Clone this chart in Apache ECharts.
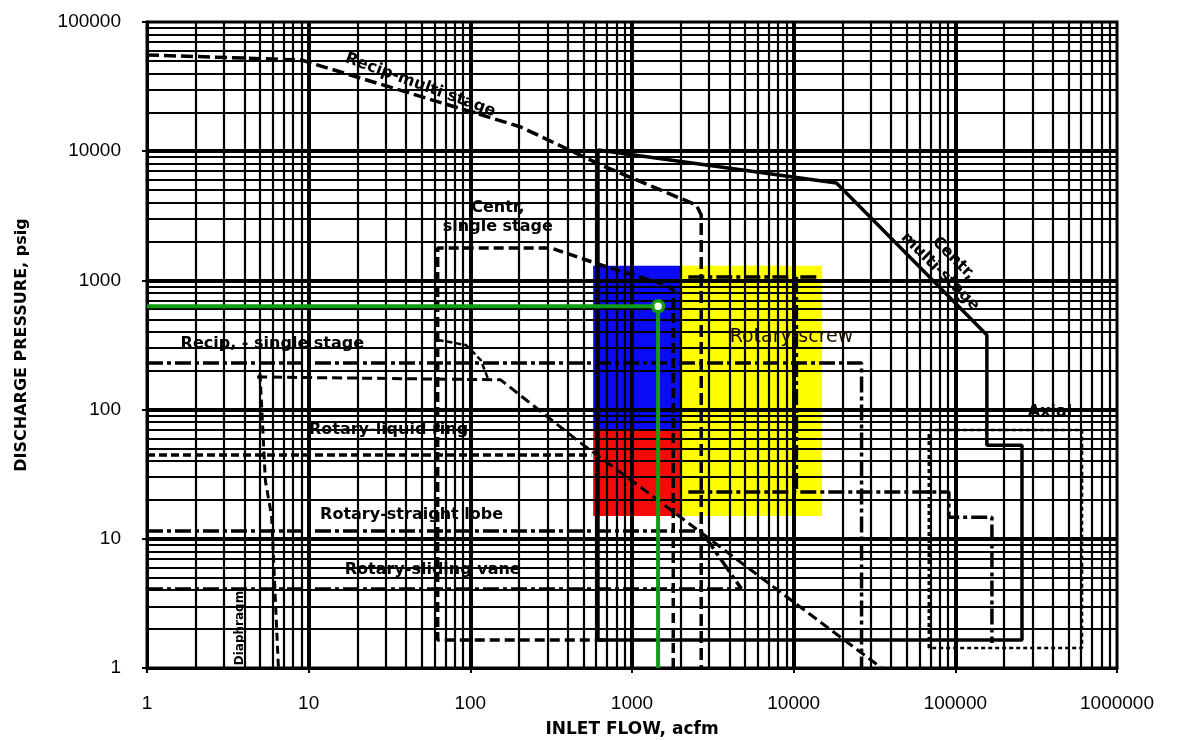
<!DOCTYPE html>
<html><head><meta charset="utf-8">
<script src="https://cdn.jsdelivr.net/npm/echarts@6/dist/echarts.min.js"></script>
<style>html,body{margin:0;padding:0;background:#fff}#c{width:1177px;height:740px}</style>
</head><body><div id="c"></div>
<script>
// ---- axis ticks ----
const xTicks = [1, 10, 100, 1000, 10000, 100000, 1000000];
const yTicks = [1, 10, 100, 1000, 10000, 100000];

// ---- boundary lines [inlet flow acfm, discharge pressure psig] ----
const recipMulti   = [[1,55600],[9,50800],[205,15400],[643,7820],[2500,3830],[2680,3210],[2680,1]];
const centrMulti   = [[616,1.65],[616,10200],[18400,5680],[156700,378],[156700,53],[258400,53],[258400,1.65],[616,1.65]];
const centrSingle  = [[1800,1],[1800,843],[1627,921],[643,1316],[315,1782],[62.8,1782],[62.8,1.65],[700,1.65]];
const recipSingle  = [[1,229],[26300,229],[26300,1]];
const recipSingleB = [[4.8,179],[154,170],[483,55],[1313,21.8],[35000,1]];
const recipSingleC = [[62.8,346],[94,316],[116,242],[128,176]];
const liquidRing   = [[1,44.5],[560,44.5]];
const straightLobe = [[1,11.5],[2680,11.5],[4750,4.1]];
const slidingVane  = [[1,4.1],[4750,4.1]];
const diaphragm    = [[5.0,190],[5.4,28],[5.9,15],[6.5,1]];
const screwTop     = [[2230,1063],[14250,1063]];
const screwRight   = [[10400,1063],[10400,23]];
const screwBottom  = [[2230,23],[91200,23],[91200,14.7],[168400,14.7],[168400,1.56]];
const axial        = [[68500,1.43],[68500,69.5],[608000,69.5],[608000,1.43],[68500,1.43]];

// ---- highlighted regions [xFrom, xTo, yFrom, yTo] ----
const boxBlue   = [575, 2000, 70, 1300];
const boxRed    = [575, 2000, 15, 70];
const boxYellow = [2000, 15000, 15, 1300];

// ---- operating point ----
const opPoint = [1450, 630];

// ---- annotations [x, y, text, rotate] ----
const notes = [
  [49, 32500, 'Recip-multi stage', -20],
  [148, 3100, 'Centr,\nsingle stage', 0],
  [88600, 1316, 'Centr,\nmulti-stage', -45],
  [5.96, 322, 'Recip, - single stage', 0],
  [31.2, 69.5, 'Rotary-liquid ring', 0],
  [43.3, 15.3, 'Rotary-straight lobe', 0],
  [58.5, 5.73, 'Rotary-sliding vane', 0],
  [385000, 95.8, 'Axial', 0]
];
const noteScrew = [9690, 365, 'Rotary-screw'];
const noteDiaph = [3.77, 2.04, 'Diaphragm', 90];

// grid lines (decade structure of the log axes)
function gridLines(ticks, key) {
  const out = [];
  for (let i = 0; i < ticks.length - 1; i++) {
    for (let m = 1; m <= 9; m++) {
      if (m === 1 && i === 0) continue;
      out.push({ [key]: ticks[i] * m, lineStyle: { width: m === 1 ? 4 : 2.2 } });
    }
  }
  return out;
}

const chart = echarts.init(document.getElementById('c'), null, { renderer: 'canvas' });
const FONT = 'DejaVu Sans';

function lineSeries(data, dash, width) {
  return {
    type: 'line', data: data, symbol: 'none', showSymbol: false, z: 3, silent: true,
    lineStyle: { color: '#000', width: width || 3, type: dash || 'solid' },
    animation: false
  };
}
function box(b, color) {
  return [{ coord: [b[0], b[2]], itemStyle: { color: color, opacity: 1 } }, { coord: [b[1], b[3]] }];
}

const dashed = [12, 5];
const dashDot = [16, 4, 4, 4];

const option = {
  animation: false,
  backgroundColor: '#fff',
  grid: { left: 147, right: 60, top: 22, bottom: 72, show: true, borderColor: '#000', borderWidth: 3,
    containLabel: false, outerBoundsMode: 'none' },
  xAxis: {
    type: 'log', logBase: 10, min: xTicks[0], max: xTicks[xTicks.length - 1], splitNumber: 6,
    name: 'INLET FLOW, acfm', nameLocation: 'middle', nameGap: 53,
    nameTextStyle: { fontFamily: FONT, fontWeight: 'bold', fontSize: 17, color: '#000' },
    axisLine: { show: true, lineStyle: { color: '#000', width: 3 } },
    axisTick: { show: true, length: 5, lineStyle: { color: '#000', width: 2 } },
    axisLabel: { margin: 26, fontFamily: 'Liberation Sans', fontSize: 19, color: '#000',
      formatter: v => String(Math.round(v)) },
    splitLine: { show: false }, minorTick: { show: false }
  },
  yAxis: {
    type: 'log', logBase: 10, min: yTicks[0], max: yTicks[yTicks.length - 1], splitNumber: 5,
    name: 'DISCHARGE PRESSURE, psig', nameLocation: 'middle', nameGap: 117,
    nameTextStyle: { fontFamily: FONT, fontWeight: 'bold', fontSize: 16, color: '#000' },
    axisLine: { show: true, lineStyle: { color: '#000', width: 3 } },
    axisTick: { show: true, length: 5, lineStyle: { color: '#000', width: 2 } },
    axisLabel: { margin: 26, fontFamily: 'Liberation Sans', fontSize: 19, color: '#000',
      formatter: v => String(Math.round(v)) },
    splitLine: { show: false }
  },
  series: [
    {
      type: 'line', data: [], silent: true, z: 1,
      markArea: {
        silent: true, z: 1, label: { show: false },
        data: [box(boxBlue, '#0a0af5'), box(boxRed, '#f50a0a'), box(boxYellow, '#ffff00')]
      },
      markLine: {
        silent: true, z: 2, symbol: ['none', 'none'], label: { show: false },
        lineStyle: { color: '#000', type: 'solid', opacity: 1 },
        emphasis: { disabled: true },
        data: gridLines(xTicks, 'xAxis').concat(gridLines(yTicks, 'yAxis'))
      }
    },
    lineSeries(recipMulti, dashed, 3.5),
    lineSeries(centrMulti, 'solid', 3.5),
    lineSeries(centrSingle, [10, 5], 3.5),
    lineSeries(recipSingle, dashDot, 3.5),
    lineSeries(recipSingleB, [10, 5], 3),
    lineSeries(recipSingleC, [6, 3], 2.5),
    lineSeries(liquidRing, [8, 4], 3.5),
    lineSeries(straightLobe, dashDot, 3.5),
    lineSeries(slidingVane, dashDot, 3),
    lineSeries(diaphragm, [8, 5], 3),
    lineSeries(screwTop, dashDot, 3.5),
    lineSeries(screwRight, dashDot, 3.5),
    lineSeries(screwBottom, dashDot, 3.5),
    lineSeries(axial, [4, 3], 2.5),
    {
      type: 'line', z: 6, symbol: 'none', silent: true,
      data: [[xTicks[0], opPoint[1]], opPoint, [opPoint[0], yTicks[0]]],
      lineStyle: { color: '#139a13', width: 4 }
    },
    {
      type: 'scatter', z: 7, silent: true, data: [opPoint], symbolSize: 11,
      itemStyle: { color: '#fff', borderColor: '#139a13', borderWidth: 3.5, opacity: 1 }
    },
    {
      type: 'scatter', z: 8, silent: true, symbolSize: 1,
      itemStyle: { color: 'rgba(0,0,0,0)', opacity: 1 },
      label: { show: true, position: 'inside', fontFamily: FONT, fontWeight: 'bold', fontSize: 16,
        color: '#000', opacity: 1, textBorderWidth: 0, lineHeight: 19, align: 'center', verticalAlign: 'middle' },
      data: notes.map(n => ({ value: [n[0], n[1]], label: { formatter: n[2], rotate: n[3] } }))
        .concat([
          { value: [noteScrew[0], noteScrew[1]], label: { formatter: noteScrew[2], fontWeight: 'normal', fontSize: 19, color: '#1a1000' } },
          { value: [noteDiaph[0], noteDiaph[1]], label: { formatter: noteDiaph[2], rotate: noteDiaph[3], fontSize: 12 } }
        ])
    }
  ]
};
chart.setOption(option);
</script></body></html>
